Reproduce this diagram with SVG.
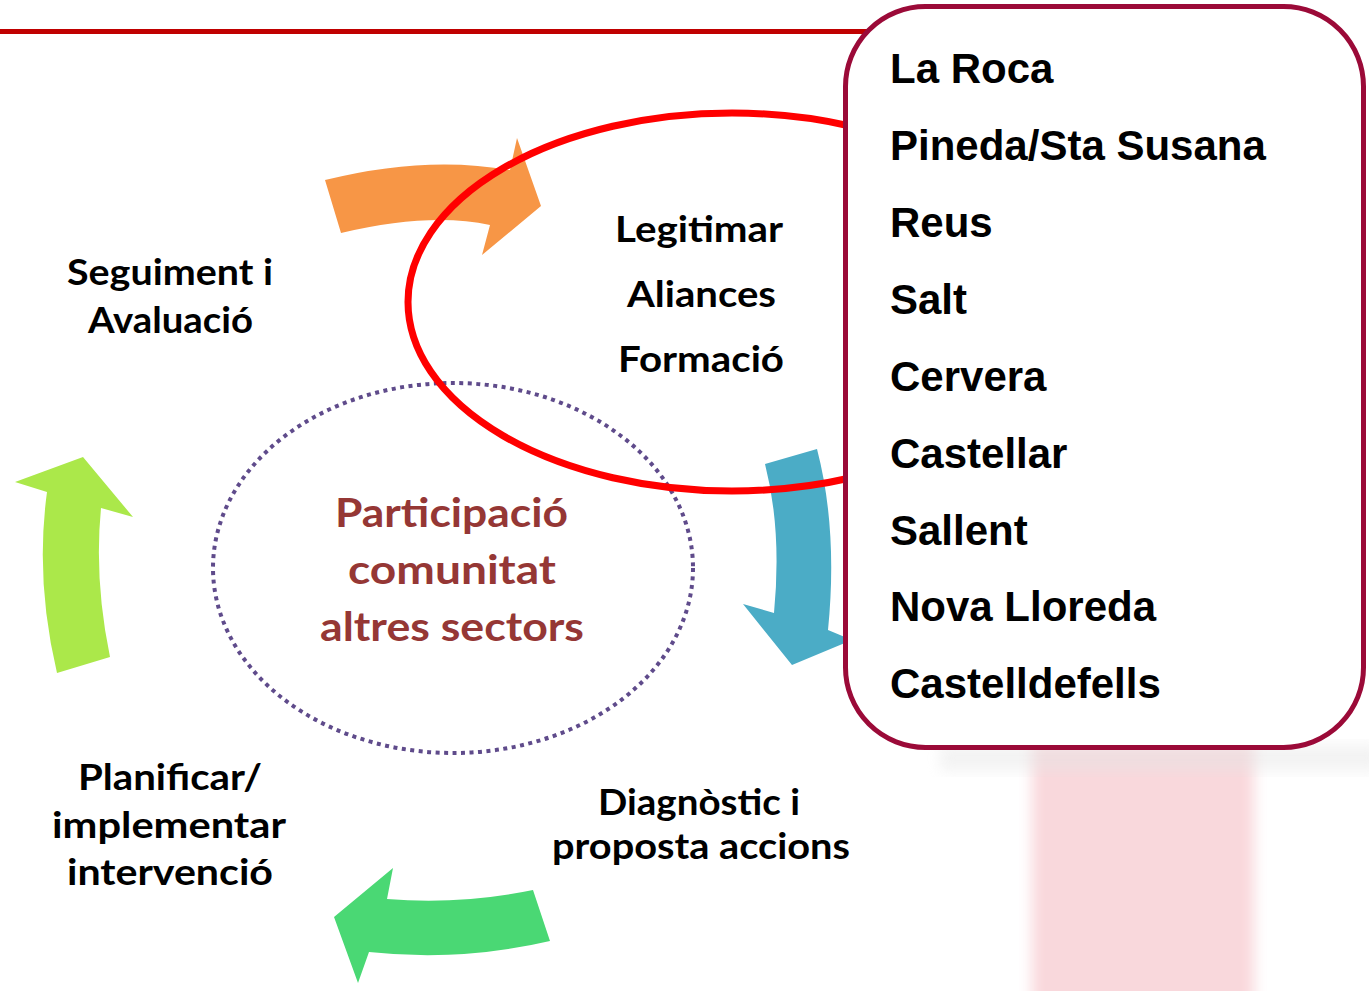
<svg xmlns="http://www.w3.org/2000/svg" width="1369" height="991" viewBox="0 0 1369 991">
<defs>
<style>
.lbl{font-family:Lato,"Open Sans","Liberation Sans",sans-serif;font-weight:bold;font-size:37px;fill:#000}
.mid{font-family:Lato,"Open Sans","Liberation Sans",sans-serif;font-weight:bold;font-size:40px;fill:#953735}
.lst{font-family:"Liberation Sans",Arial,sans-serif;font-weight:bold;font-size:42px;fill:#000}
</style>
<filter id="blur" x="-20%" y="-20%" width="140%" height="140%"><feGaussianBlur stdDeviation="7"/></filter>
</defs>
<rect width="1369" height="991" fill="#fff"/>
<g id="background">
<rect x="1032" y="745" width="222" height="260" fill="#F9D8DC" filter="url(#blur)"/>
<rect x="940" y="745" width="440" height="26" fill="#E4E4E4" opacity="0.45" filter="url(#blur)"/>
<line x1="0" y1="31.5" x2="880" y2="31.5" stroke="#C00000" stroke-width="5"/>
</g>
<g id="connectors">
<path id="arrow-orange" d="M325,180 Q425,155 510,170 L517,138 L541,206 L482,255 L490,225 Q430,212 341,233 Z" fill="#F79646"/>
<path id="arrow-blue" d="M765,464 L817,449 Q838,530 828,630 L852,640 L792,665 L743,604 L774,613 Q782,530 765,464 Z" fill="#4BACC6"/>
<path id="arrow-green" d="M393,868 L387,899 Q460,905 533,890 L550,941 Q460,962 369,952 L358,983 L334,917 Z" fill="#4AD874"/>
<path id="arrow-lime" d="M15,482 L83,457 L133,517 L101,508 Q94,580 110,657 L57,673 Q35,580 47,492 Z" fill="#ABE84A"/>
</g>
<g id="node-participacio">
<ellipse cx="453" cy="568" rx="240" ry="185" fill="none" stroke="#5F4B8B" stroke-width="4" stroke-dasharray="4 4.5"/>
<text class="mid" x="335" y="527" textLength="233" lengthAdjust="spacingAndGlyphs">Participació</text>
<text class="mid" x="348" y="584" textLength="208" lengthAdjust="spacingAndGlyphs">comunitat</text>
<text class="mid" x="320" y="641" textLength="264" lengthAdjust="spacingAndGlyphs">altres sectors</text>
</g>
<g id="node-legitimar">
<ellipse cx="732" cy="302" rx="324" ry="189" fill="none" stroke="#FF0000" stroke-width="7"/>
<text class="lbl" x="615" y="242" textLength="168" lengthAdjust="spacingAndGlyphs">Legitimar</text>
<text class="lbl" x="627" y="307" textLength="149" lengthAdjust="spacingAndGlyphs">Aliances</text>
<text class="lbl" x="618" y="372" textLength="166" lengthAdjust="spacingAndGlyphs">Formació</text>
</g>
<g id="node-seguiment">
<text class="lbl" x="67" y="285" textLength="206" lengthAdjust="spacingAndGlyphs">Seguiment i</text>
<text class="lbl" x="88" y="333" textLength="165" lengthAdjust="spacingAndGlyphs">Avaluació</text>
</g>
<g id="node-planificar">
<text class="lbl" x="78" y="790" textLength="184" lengthAdjust="spacingAndGlyphs">Planificar/</text>
<text class="lbl" x="52" y="838" textLength="234" lengthAdjust="spacingAndGlyphs">implementar</text>
<text class="lbl" x="67" y="885" textLength="206" lengthAdjust="spacingAndGlyphs">intervenció</text>
</g>
<g id="node-diagnostic">
<text class="lbl" x="598" y="815" textLength="202" lengthAdjust="spacingAndGlyphs">Diagnòstic i</text>
<text class="lbl" x="552" y="859" textLength="298" lengthAdjust="spacingAndGlyphs">proposta accions</text>
</g>
<g id="node-list">
<rect x="845.5" y="6.5" width="518" height="741" rx="80" ry="80" fill="#fff" stroke="#9B0A38" stroke-width="5"/>
<text class="lst" x="890" y="83">La Roca</text>
<text class="lst" x="890" y="160">Pineda/Sta Susana</text>
<text class="lst" x="890" y="237">Reus</text>
<text class="lst" x="890" y="314">Salt</text>
<text class="lst" x="890" y="391">Cervera</text>
<text class="lst" x="890" y="468">Castellar</text>
<text class="lst" x="890" y="545">Sallent</text>
<text class="lst" x="890" y="621">Nova Lloreda</text>
<text class="lst" x="890" y="698">Castelldefells</text>
</g>
</svg>
